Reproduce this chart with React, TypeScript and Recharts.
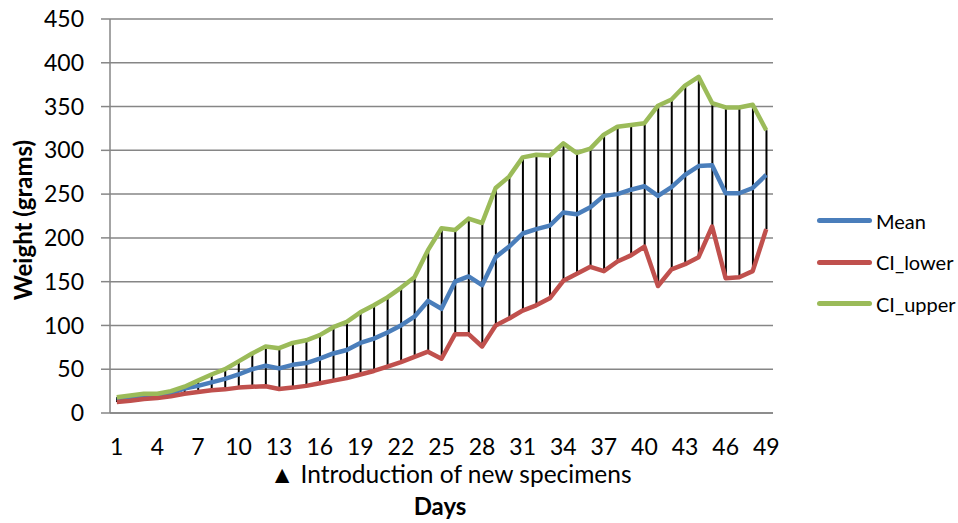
import { ComposedChart, Line, Bar, XAxis, YAxis, CartesianGrid } from 'recharts';

const days = [
  1, 2, 3, 4, 5, 6, 7, 8, 9, 10, 11, 12, 13, 14, 15, 16, 17, 18, 19, 20, 21, 22, 23, 24, 25,
  26, 27, 28, 29, 30, 31, 32, 33, 34, 35, 36, 37, 38, 39, 40, 41, 42, 43, 44, 45, 46, 47, 48, 49,
];

const meanValues = [
  15, 17, 19, 19.5, 22, 28, 31, 35, 39, 44, 50, 54, 51, 55, 57, 62, 68, 72, 80, 85, 92, 100, 110, 128, 119,
  150, 156, 146, 178, 190, 205, 210, 214, 229, 227, 235, 248, 250, 255, 259, 248, 258, 272, 282, 283, 251, 251, 257, 272,
];

const lowerValues = [
  12.6, 14, 16, 17, 19, 22, 24, 26, 27, 29, 30, 30.5, 27.5, 29, 31, 34, 37, 40, 44, 48, 53, 58, 64, 70, 62,
  90, 90, 76, 100, 108, 117, 123, 131, 151, 159, 167, 162, 173, 180, 190, 145, 164, 170, 178, 213, 154, 155, 162, 210,
];

const upperValues = [
  18, 20, 22, 22, 25, 30, 37, 44, 50, 59, 68, 76, 74, 80, 83, 89, 98, 104, 115, 123, 132, 143, 155, 186, 211,
  209, 222, 217, 257, 270, 292, 295, 294, 308, 297, 302, 318, 327, 329, 331, 351, 358, 374, 384, 354, 349, 349, 352, 323,
];

const yTicks = [0, 50, 100, 150, 200, 250, 300, 350, 400, 450];

const seriesInfo = [
  { key: 'mean', name: 'Mean', color: '#4A7EBB' },
  { key: 'lower', name: 'CI_lower', color: '#C0504D' },
  { key: 'upper', name: 'CI_upper', color: '#9BBB59' },
];

const data = days.map((d, i) => ({
  day: d,
  mean: meanValues[i],
  lower: lowerValues[i],
  upper: upperValues[i],
  range: [lowerValues[i], upperValues[i]],
}));

const FONT = 'Lato, "Open Sans", sans-serif';

// thin black line from CI_lower to CI_upper
const HighLow = (props: any) => {
  const { x, y, width, height } = props;
  if (x == null || y == null) return null;
  const cx = x + width / 2;
  return <line x1={cx} x2={cx} y1={y} y2={y + height} stroke="#000" strokeWidth={2} />;
};

export default function App() {
  return (
    <div style={{ position: 'absolute', left: 0, top: 0, width: 958, height: 523, background: '#fff', fontFamily: FONT }}>
      <ComposedChart
        width={958}
        height={523}
        data={data}
        margin={{ top: 19, right: 185, bottom: 80, left: 0 }}
      >
        <CartesianGrid vertical={false} stroke="#868686" strokeWidth={1.5} />
        <XAxis
          dataKey="day"
          interval={2}
          height={30}
          tickLine={false}
          tickSize={0}
          tickMargin={26}
          axisLine={{ stroke: '#868686', strokeWidth: 1.5 }}
          tick={{ fontSize: 23, fill: '#000', fontFamily: FONT }}
        />
        <YAxis
          width={110}
          domain={[0, 450]}
          ticks={yTicks}
          tickSize={9}
          tickMargin={17}
          axisLine={{ stroke: '#868686', strokeWidth: 1.5 }}
          tickLine={{ stroke: '#868686', strokeWidth: 1.5 }}
          tick={{ fontSize: 23, fill: '#000', fontFamily: FONT }}
        />
        {seriesInfo.map((s) => (
          <Line
            key={s.key}
            type="linear"
            dataKey={s.key}
            name={s.name}
            stroke={s.color}
            strokeWidth={4.5}
            strokeLinejoin="round"
            dot={false}
            activeDot={false}
            isAnimationActive={false}
          />
        ))}
        <Bar dataKey="range" barSize={4} shape={<HighLow />} legendType="none" isAnimationActive={false} />
      </ComposedChart>

      {/* axis titles and note */}
      <div
        style={{
          position: 'absolute',
          left: 22,
          top: 220,
          transform: 'translate(-50%, -50%) rotate(-90deg)',
          fontSize: 24,
          fontWeight: 'bold',
          whiteSpace: 'nowrap',
        }}
      >
        Weight (grams)
      </div>
      <div style={{ position: 'absolute', left: 270, top: 462, fontSize: 24.5, lineHeight: 1, whiteSpace: 'nowrap' }}>
        ▲ Introduction of new specimens
      </div>
      <div
        style={{
          position: 'absolute',
          left: 440,
          top: 494,
          transform: 'translateX(-50%)',
          fontSize: 24,
          lineHeight: 1,
          fontWeight: 'bold',
        }}
      >
        Days
      </div>

      {/* legend */}
      <div style={{ position: 'absolute', left: 817, top: 200 }}>
        {seriesInfo.map((s) => (
          <div key={s.key} style={{ display: 'flex', alignItems: 'center', height: 41.5 }}>
            <div style={{ width: 55, height: 5, borderRadius: 3, background: s.color, marginRight: 4 }} />
            <span style={{ fontSize: 20, lineHeight: '24px' }}>{s.name}</span>
          </div>
        ))}
      </div>
    </div>
  );
}
